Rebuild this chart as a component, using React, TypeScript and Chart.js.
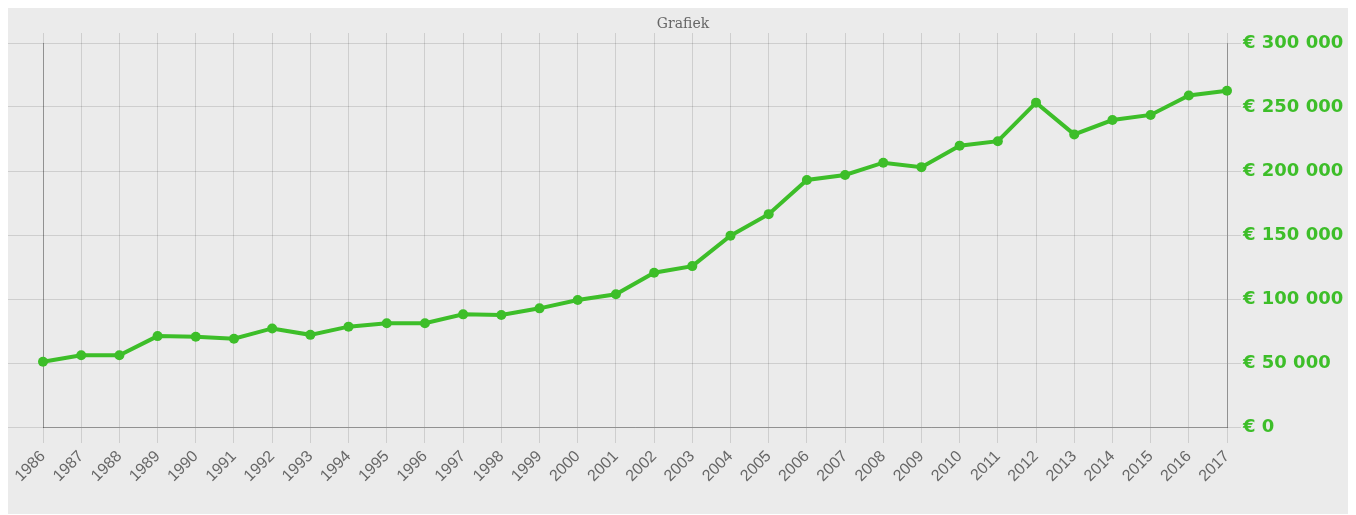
import React, { useEffect, useRef } from 'react';
import { Chart, registerables } from 'chart.js';

Chart.register(...registerables);

const years = ['1986', '1987', '1988', '1989', '1990', '1991', '1992', '1993', '1994', '1995', '1996', '1997', '1998', '1999', '2000', '2001', '2002', '2003', '2004', '2005', '2006', '2007', '2008', '2009', '2010', '2011', '2012', '2013', '2014', '2015', '2016', '2017'];
const values = [51000, 56000, 56000, 71000, 70500, 69000, 77000, 72000, 78400, 81000, 81000, 88000, 87500, 92700, 99200, 103700, 120500, 125700, 149500, 166300, 193000, 196900, 206500, 203000, 219800, 223300, 253400, 228600, 239800, 243800, 259000, 262700];
const yMin = 0;
const yMax = 300000;
const yStep = 50000;
const titleText = 'Grafiek';

const GREEN = '#3dbe29';
const GRID = 'rgba(0,0,0,0.12)';
const BORDER = 'rgba(0,0,0,0.3)';

const fmt = (v: number) => '€ ' + String(v).replace(/\B(?=(\d{3})+(?!\d))/g, ' ');

const titlePlugin = {
  id: 'customTitle',
  afterDraw(chart: any) {
    const ctx = chart.ctx;
    ctx.save();
    ctx.font = '14px "DejaVu Serif"';
    ctx.fillStyle = '#666';
    ctx.textAlign = 'center';
    ctx.textBaseline = 'alphabetic';
    ctx.fillText(titleText, 675, 20);
    ctx.restore();
  },
};

export default function App() {
  const ref = useRef<HTMLCanvasElement | null>(null);
  useEffect(() => {
    if (!ref.current) return;
    const chart = new Chart(ref.current, {
      type: 'line',
      data: {
        labels: years,
        datasets: [
          {
            data: values,
            borderColor: GREEN,
            backgroundColor: GREEN,
            borderWidth: 4,
            pointRadius: 5,
            pointBorderWidth: 0,
            pointBackgroundColor: GREEN,
            tension: 0,
            fill: false,
            xAxisID: 'x',
            yAxisID: 'y',
          },
        ],
      },
      options: {
        animation: false,
        responsive: true,
        maintainAspectRatio: false,
        layout: { padding: 0 },
        plugins: {
          legend: { display: false },
          title: { display: false },
          tooltip: { enabled: false },
        },
        scales: {
          x: {
            type: 'category',
            position: 'bottom',
            grid: { color: GRID, tickLength: 16, drawTicks: true },
            border: { display: true, color: BORDER },
            ticks: {
              autoSkip: false,
              minRotation: 45,
              maxRotation: 45,
              padding: 4,
              color: '#666',
              font: { family: '"Liberation Sans", Arial', size: 16 },
            },
            afterFit: (s: any) => { s.height = 87; },
          },
          x2: {
            type: 'category',
            position: 'top',
            grid: { color: GRID, tickLength: 10, drawOnChartArea: false },
            border: { display: false },
            ticks: { display: false },
            afterFit: (s: any) => { s.height = 35; },
          },
          y: {
            position: 'right',
            min: yMin,
            max: yMax,
            grid: { color: GRID, tickLength: 14 },
            border: { display: true, color: BORDER },
            ticks: {
              stepSize: yStep,
              padding: 2,
              color: GREEN,
              font: { family: '"DejaVu Sans"', size: 18, weight: 'bold' },
              callback: (v: any) => fmt(Number(v)),
            },
            afterFit: (s: any) => { s.width = 121; },
          },
          yL: {
            position: 'left',
            min: yMin,
            max: yMax,
            grid: { color: GRID, tickLength: 35, drawOnChartArea: false },
            border: { display: true, color: BORDER },
            ticks: { display: false, stepSize: yStep },
            afterFit: (s: any) => { s.width = 35; },
          },
        },
      } as any,
      plugins: [titlePlugin],
    });
    return () => chart.destroy();
  }, []);
  return (
    <div style={{ width: '100%', height: '506px', background: '#ebebeb', position: 'relative' }}>
      <canvas ref={ref} />
    </div>
  );
}
